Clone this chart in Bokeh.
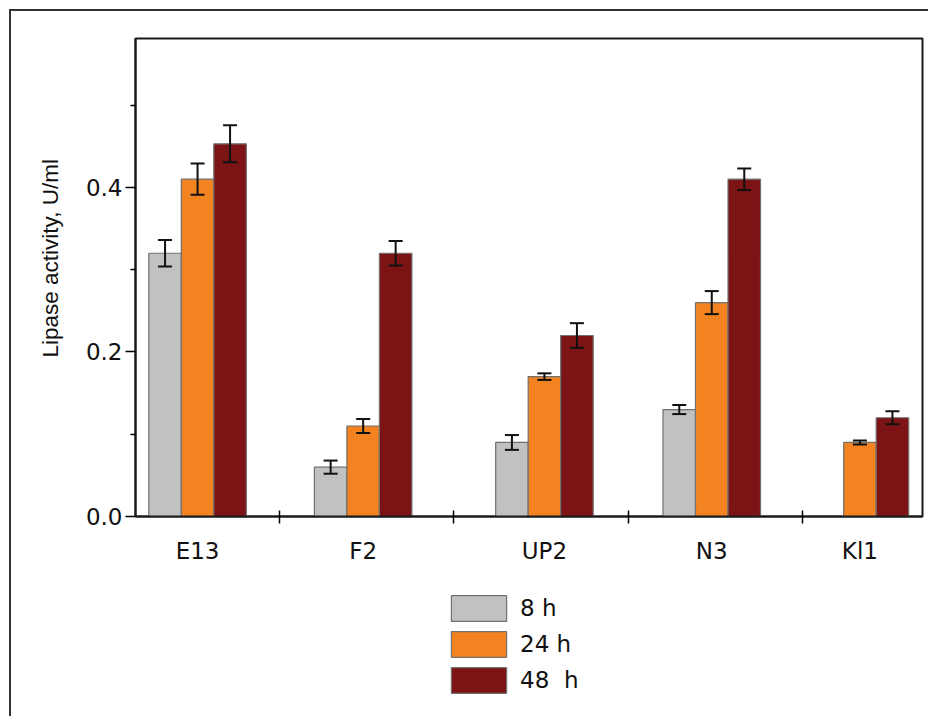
from bokeh.plotting import figure
from bokeh.layouts import column
from bokeh.models import (ColumnDataSource, Range1d, FixedTicker, Whisker, TeeHead,
                          Legend, LegendItem, NumeralTickFormatter, Title)
from bokeh.embed import file_html
from bokeh.resources import INLINE

# ---- data ----
strains = ["E13", "F2", "UP2", "N3", "Kl1"]
group_x = [1.03, 1.98, 3.02, 3.98, 4.83]          # category centres on the x axis
series = ["8 h", "24 h", "48  h"]
act_8h = [0.320, 0.060, 0.090, 0.130, float("nan")]
act_24h = [0.410, 0.110, 0.170, 0.260, 0.090]
act_48h = [0.453, 0.320, 0.220, 0.410, 0.120]
err_8h = [0.016, 0.008, 0.009, 0.0055, float("nan")]
err_24h = [0.019, 0.0085, 0.004, 0.014, 0.0025]
err_48h = [0.0225, 0.015, 0.015, 0.013, 0.008]
y_ticks = [0.0, 0.2, 0.4]
y_minor = [0.1, 0.3, 0.5]
x_sep = [1.5, 2.5, 3.5, 4.5]
y_title = "Lipase activity, U/ml"

colors = ["#C1C1C1", "#F38320", "#7C1416"]
bar_w = 0.1865
FONT = "Liberation Sans"
TFONT = "DejaVu Sans"
OFF = 11  # page offset of the outer box content
W = 928 - OFF

p = figure(width=W, height=565, output_backend="svg", toolbar_location=None,
           x_range=Range1d(0.674, 5.189), y_range=Range1d(0, 0.581),
           min_border_left=135 - OFF, min_border_right=6, min_border_top=38 - OFF,
           min_border_bottom=60)
p.grid.visible = False
p.outline_line_color = "#1a1a1a"
p.outline_line_width = 2

vals = [act_8h, act_24h, act_48h]
errs = [err_8h, err_24h, err_48h]
for k in range(3):
    off = (k - 1) * bar_w
    xs = [g + off for g in group_x]
    src = ColumnDataSource(dict(x=xs, top=vals[k],
                                upper=[v + e for v, e in zip(vals[k], errs[k])],
                                lower=[v - e for v, e in zip(vals[k], errs[k])]))
    p.vbar(x="x", top="top", width=bar_w, source=src, fill_color=colors[k],
           line_color="#707070", line_width=1.2)
    w = Whisker(base="x", upper="upper", lower="lower", source=src, level="overlay",
                line_color="#111111", line_width=2,
                upper_head=TeeHead(size=14, line_color="#111111", line_width=2),
                lower_head=TeeHead(size=14, line_color="#111111", line_width=2))
    p.add_layout(w)

# y axis
ya = p.yaxis[0]
ya.ticker = FixedTicker(ticks=y_ticks, minor_ticks=y_minor)
ya.formatter = NumeralTickFormatter(format="0.0")
ya.major_label_text_font = TFONT
ya.major_label_text_font_size = "23px"
ya.major_label_text_color = "#111111"
ya.major_label_standoff = 3
ya.major_tick_out = 10
ya.major_tick_in = 0
ya.minor_tick_out = 5
ya.minor_tick_in = 0
ya.axis_line_width = 2
ya.axis_line_color = "#1a1a1a"
ya.major_tick_line_width = 1.5
ya.minor_tick_line_width = 1.5

p.add_layout(Title(text=y_title, align="left", offset=159, standoff=40,
                   text_font=FONT, text_font_size="22.5px", text_font_style="normal",
                   text_color="#111111"), "left")

# x axis
xa = p.xaxis[0]
xa.ticker = FixedTicker(ticks=group_x, minor_ticks=x_sep)
xa.major_label_overrides = {g: s for g, s in zip(group_x, strains)}
xa.major_label_text_font = TFONT
xa.major_label_text_font_size = "23px"
xa.major_label_text_color = "#111111"
xa.major_label_standoff = 14
xa.major_tick_line_color = None
xa.major_tick_out = 0
xa.major_tick_in = 0
xa.minor_tick_out = 7
xa.minor_tick_in = 6
xa.minor_tick_line_width = 1.5
xa.axis_line_width = 2
xa.axis_line_color = "#1a1a1a"

# legend panel beneath the chart
H2 = 140
p2 = figure(width=W, height=H2, output_backend="svg", toolbar_location=None,
            x_range=Range1d(0, 1), y_range=Range1d(0, 1), min_border=0)
p2.axis.visible = False
p2.grid.visible = False
p2.outline_line_color = None
nan = float("nan")
swatches = [p2.vbar(x=[nan], top=[nan], width=0.1, fill_color=c, line_color="#707070",
                    line_width=1.2) for c in colors]
legend = Legend(items=[LegendItem(label=s, renderers=[r]) for s, r in zip(series, swatches)],
                location=(444 - 135, 20), orientation="vertical",
                glyph_width=69, glyph_height=32, spacing=4, padding=0, margin=0,
                label_standoff=7, label_text_font=TFONT, label_text_font_size="23px",
                label_text_color="#111111", border_line_color=None,
                background_fill_alpha=0)
p2.add_layout(legend, "center")

layout = column(p, p2, spacing=0,
                styles={"border-top": "2px solid #333333", "border-left": "2px solid #333333",
                        "margin-left": "%dpx" % (OFF - 2), "margin-top": "%dpx" % (OFF - 2)})

open("out.html", "w").write(file_html(layout, INLINE))
